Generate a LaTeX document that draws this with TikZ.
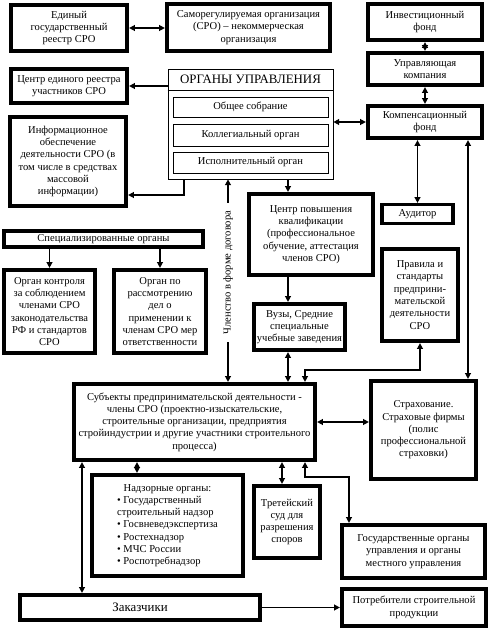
\documentclass[tikz,border=0pt]{standalone}
\usepackage{fontspec}
\setmainfont{Liberation Serif}
\usetikzlibrary{arrows.meta, calc}

\begin{document}
\begin{tikzpicture}[x=0.03cm, y=-0.03cm,
        font=\fontsize{9}{10.5}\selectfont,
        box/.style={rectangle, draw, line width=3.6pt, align=center, inner sep=2pt},
        thinbox/.style={rectangle, draw, line width=0.6pt, align=center, inner sep=2pt},
        con/.style={line width=1.6pt},
        >={Triangle[length=5pt, width=5pt]}
    ]
    \fill[white] (0,0) rectangle (489,630);
    \useasboundingbox (0,0) rectangle (489,630);

    % top row
    \node[box, minimum width=3.48cm, minimum height=1.38cm] (reg) at (69,28)
        {Единый\\государственный\\реестр СРО};
    \node[box, minimum width=4.89cm, minimum height=1.41cm] (sro) at (248.5,27.5)
        {Саморегулируемая организация\\(СРО) – некоммерческая\\организация};
    \node[box, minimum width=3.42cm, minimum height=1.08cm] (invest) at (425,22)
        {Инвестиционный\\фонд};
    \node[box, minimum width=3.42cm, minimum height=0.96cm] (upr) at (425,69)
        {Управляющая\\компания};
    \node[box, minimum width=3.42cm, minimum height=0.96cm] (komp) at (425,122)
        {Компенсационный\\фонд};
    \node[box, line width=3pt, minimum width=2.13cm, minimum height=0.56cm, inner sep=0pt] (audit) at (417.5,214)
        {Аудитор};

    % left column
    \node[box, minimum width=3.48cm, minimum height=1.02cm] (centr) at (69,86)
        {Центр единого реестра\\участников СРО};
    \node[box, minimum width=3.48cm, minimum height=2.67cm] (info) at (68,161.5)
        {Информационное\\обеспечение\\деятельности СРО (в\\том числе в средствах\\массовой\\информации)};
    \node[box, minimum width=5.97cm, minimum height=0.48cm, inner sep=1pt] (spec) at (103.5,239)
        {Специализированные органы};
    \node[box, minimum width=2.73cm, minimum height=2.49cm] (ctrl) at (49.5,311.5)
        {Орган контроля\\за соблюдением\\членами СРО\\законодательства\\РФ и стандартов\\СРО};
    \node[box, minimum width=2.76cm, minimum height=2.49cm] (resp) at (160,311.5)
        {Орган по\\рассмотрению\\дел о\\применении к\\членам СРО мер\\ответственности};

    % governing bodies
    \node[thinbox, minimum width=4.95cm, minimum height=3.3cm] (org) at (250.5,124) {};
    \node[font=\fontsize{11}{12}\selectfont] (orgtitle) at (250.5,79.5) {ОРГАНЫ УПРАВЛЕНИЯ};
    \coordinate (sep) at (0,90);
    \draw[line width=0.6pt] (org.west |- sep) -- (org.east |- sep);
    \node[thinbox, minimum width=4.65cm, minimum height=0.6cm] (meet) at (250.5,107) {Общее собрание};
    \node[thinbox, minimum width=4.65cm, minimum height=0.66cm] (coll) at (250.5,135) {Коллегиальный орган};
    \node[thinbox, minimum width=4.65cm, minimum height=0.63cm] (exec) at (250.5,162.5) {Исполнительный орган};

    % middle
    \node[box, minimum width=3.72cm, minimum height=2.43cm] (kval) at (311,234.5)
        {Центр повышения\\квалификации\\(профессиональное\\обучение, аттестация\\членов СРО)};
    \node[box, minimum width=2.73cm, minimum height=1.38cm] (vuzy) at (299.5,327)
        {Вузы, Средние\\специальные\\учебные заведения};
    \node[box, minimum width=2.28cm, minimum height=2.76cm] (pravila) at (420,295)
        {Правила и\\стандарты\\предприни-\\мательской\\деятельности\\СРО};
    \node[box, minimum width=7.23cm, minimum height=2.28cm] (subj) at (194.5,422)
        {Субъекты предпринимательской деятельности -\\члены СРО (проектно-изыскательские,\\строительные организации, предприятия\\стройиндустрии и другие участники строительного\\процесса)};
    \node[box, minimum width=3.15cm, minimum height=2.94cm] (strah) at (423.5,430)
        {Страхование.\\Страховые фирмы\\(полис\\профессиональной\\страховки)};

    % bottom
    \node[box, minimum width=4.53cm, minimum height=3.03cm] (nadz) at (167.5,525.5)
        {\begin{tabular}{@{}l@{}}\multicolumn{1}{@{}c@{}}{Надзорные органы:}\\
         \textbullet\ Государственный\\строительный надзор\\
         \textbullet\ Госвневедэкспертиза\\ \textbullet\ Ростехнадзор\\
         \textbullet\ МЧС России\\ \textbullet\ Роспотребнадзор\end{tabular}};
    \node[box, minimum width=1.98cm, minimum height=2.16cm] (sud) at (287,522)
        {Третейский\\суд для\\разрешения\\споров};
    \node[box, minimum width=4.29cm, minimum height=1.59cm] (gos) at (413.5,551.5)
        {Государственные органы\\управления и органы\\местного управления};
    \node[box, minimum width=7.2cm, minimum height=0.75cm, font=\fontsize{11}{12}\selectfont] (zak) at (140,607.5)
        {Заказчики};
    \node[box, minimum width=4.32cm, minimum height=1.11cm] (potr) at (414,607.5)
        {Потребители строительной\\продукции};

    % bend points
    \coordinate (xm) at (228,0);
    \coordinate (xk) at (288,0);
    \coordinate (xs) at (468,0);
    \coordinate (xz) at (82,0);
    \coordinate (xn) at (137,0);
    \coordinate (xd) at (282,0);
    \coordinate (bend1) at (184,195);
    \coordinate (bend2) at (305,370);
    \coordinate (bend3) at (305,477);
    \coordinate (bend4) at (349,477);

    % connectors
    \draw[con, <->] (reg.east) -- (sro.west |- reg.east);
    \draw[con, <->] (invest) -- (upr);
    \draw[con, <->] (upr) -- (komp);
    \draw[con, <->] (komp.west) -- (org.east |- komp.west);
    \draw[con, <->] (komp.south -| audit.north) -- (audit.north);
    \draw[con, <->] (komp.south -| xs) -- (strah.north -| xs);
    \draw[con, ->] (org.west |- centr.east) -- (centr.east);
    \draw[con, ->] (org.south -| bend1) -- (bend1) -- (info.east |- bend1);
    \draw[con, ->] (ctrl.north |- spec.south) -- (ctrl.north);
    \draw[con, ->] (resp.north |- spec.south) -- (resp.north);
    \draw[con, ->] (org.south -| xk) -- (kval.north -| xk);
    \draw[con, <->] (org.south -| xm) -- node[pos=0.46, rotate=90, fill=white, inner xsep=7pt]
        {Членство в форме договора} (subj.north -| xm);
    \draw[con, ->] (kval.south -| xk) -- (vuzy.north -| xk);
    \draw[con, <->] (vuzy.south -| xk) -- (subj.north -| xk);
    \draw[con, <->] (subj.north -| bend2) -- (bend2) -| (pravila.south);
    \draw[con, <->] (subj.east) -- (strah.west |- subj.east);
    \draw[con, <->] (subj.south -| xz) -- (zak.north -| xz);
    \draw[con, <->] (subj.south -| xn) -- (nadz.north -| xn);
    \draw[con, <->] (subj.south -| xd) -- (sud.north -| xd);
    \draw[con, <->] (subj.south -| bend3) -- (bend3) -- (bend4) -- (gos.north -| bend4);
    \draw[con, ->] (zak.east) -- (potr.west |- zak.east);
\end{tikzpicture}
\end{document}
